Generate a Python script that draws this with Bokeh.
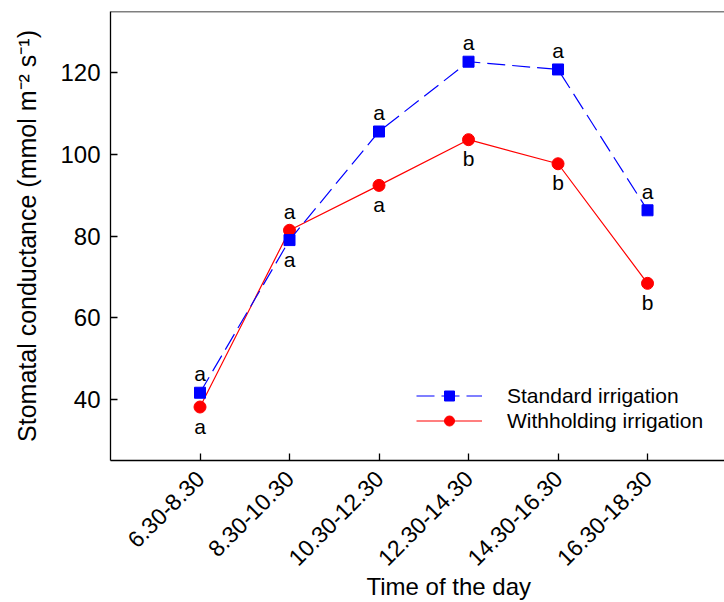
import math
from bokeh.plotting import figure
from bokeh.models import Range1d, FixedTicker, Legend, LegendItem, ColumnDataSource, Span, Title
from bokeh.core.properties import value
from bokeh.embed import file_html
from bokeh.resources import INLINE

# ---- data ----
times = ["6.30-8.30", "8.30-10.30", "10.30-12.30", "12.30-14.30", "14.30-16.30", "16.30-18.30"]
standard = [41.6, 79.0, 105.6, 122.7, 120.8, 86.3]
withholding = [38.1, 81.4, 92.4, 103.6, 97.7, 68.4]
standard_letters = ["a", "a", "a", "a", "a", "a"]
withholding_letters = ["a", "a", "a", "b", "b", "b"]
y_ticks = [40, 60, 80, 100, 120]

FONT = "Liberation Sans"
x = list(range(1, len(times) + 1))
Y0, Y1 = 25, 135

p = figure(width=724, height=602, x_range=Range1d(0, 6.86), y_range=Range1d(Y0, Y1),
           output_backend="svg", toolbar_location=None,
           min_border_left=110, min_border_right=0, min_border_top=11, min_border_bottom=142)
p.grid.visible = False
p.outline_line_color = None
p.background_fill_color = "white"
p.border_fill_color = "white"

# top border line
p.add_layout(Span(location=Y1, dimension="width", line_color="black", line_width=1.3))

# series
r_wh_line = p.line(x, withholding, line_color="#FF0000", line_width=1.2)
r_wh_pts = p.scatter(x, withholding, marker="circle", size=12, fill_color="#FF0000", line_color="#FF0000")
r_std_line = p.line(x, standard, line_color="#0000FF", line_width=1.2, line_dash="18 7")
r_std_pts = p.scatter(x, standard, marker="square", size=11, fill_color="#0000FF", line_color="#0000FF")

# significance letters
OFF = 19
std_off = [-OFF if s >= w else OFF for s, w in zip(standard, withholding)]
wh_off = [OFF if s >= w else -OFF for s, w in zip(standard, withholding)]
src = ColumnDataSource(dict(x=x + x, y=standard + withholding,
                            t=standard_letters + withholding_letters,
                            off=std_off + wh_off))
p.text(x="x", y="y", text="t", y_offset="off", source=src, text_align="center",
       text_baseline="middle", text_font=value(FONT), text_font_size="21px", text_color="black")

# axes
for ax in (p.xaxis[0], p.yaxis[0]):
    ax.axis_line_color = "black"
    ax.axis_line_width = 1.3
    ax.major_tick_line_color = "black"
    ax.major_tick_line_width = 1.3
    ax.major_tick_in = 7
    ax.major_tick_out = 0
    ax.minor_tick_line_color = None
    ax.major_label_text_font = FONT
    ax.major_label_text_color = "black"

p.xaxis.ticker = FixedTicker(ticks=x)
p.xaxis.major_label_overrides = {i: t for i, t in zip(x, times)}
p.xaxis.major_label_orientation = math.pi / 4
p.xaxis.major_label_standoff = 14
p.xaxis.major_label_text_font_size = "23px"

p.yaxis.ticker = FixedTicker(ticks=y_ticks)
p.yaxis.major_label_standoff = 10
p.yaxis.major_label_text_font_size = "24px"
p.yaxis.axis_label = "Stomatal conductance (mmol m\u207b\u00b2 s\u207b\u00b9)"
p.yaxis.axis_label_text_font = FONT
p.yaxis.axis_label_text_font_size = "25px"
p.yaxis.axis_label_text_font_style = "normal"
p.yaxis.axis_label_text_color = "black"
p.yaxis.axis_label_standoff = 16

# x-axis title
p.add_layout(Title(text="Time of the day", align="left", offset=256, standoff=-12,
                   text_font=FONT, text_font_size="24px", text_font_style="normal",
                   text_color="black"), "below")

legend = Legend(items=[LegendItem(label="Standard irrigation", renderers=[r_std_line, r_std_pts]),
                       LegendItem(label="Withholding irrigation", renderers=[r_wh_line, r_wh_pts])],
                location=(306, 27), padding=0, margin=0, spacing=0,
                border_line_color=None, background_fill_alpha=0,
                glyph_width=66, glyph_height=25, label_height=25, label_standoff=25,
                label_text_font=FONT, label_text_font_size="21px", label_text_color="black")
p.add_layout(legend)

open("out.html", "w").write(file_html(p, INLINE))
